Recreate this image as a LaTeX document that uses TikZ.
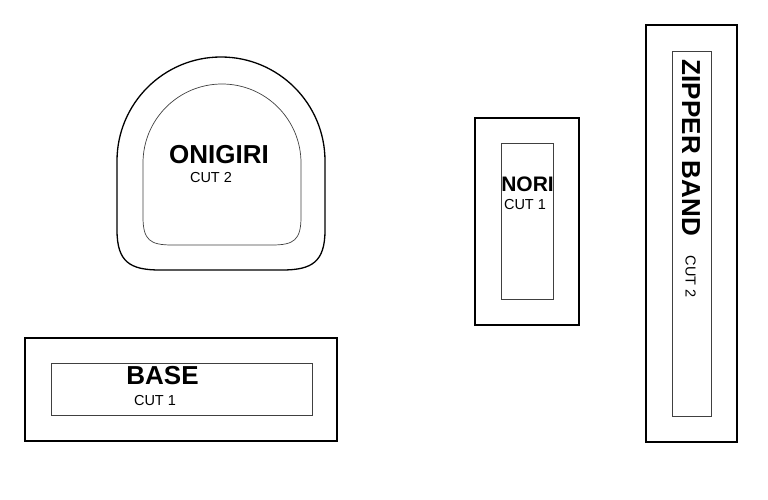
\documentclass[tikz,border=0pt]{standalone}
\usepackage{fontspec}
\setmainfont{Liberation Sans}
\begin{document}
\begin{tikzpicture}[x=1pt,y=-1pt,
  outerline/.style={draw=black,line width=1.3pt},
  innerline/.style={draw=black!75,line width=0.7pt},
  bigtitle/.style={inner sep=0pt,font=\fontsize{26}{26}\selectfont\bfseries},
  cutlabel/.style={inner sep=0pt,font=\fontsize{14.5}{14.5}\selectfont}]
\useasboundingbox (0,0) rectangle (768,500);
% BASE
\draw[outerline] (25,338) rectangle (337,441);
\draw[innerline] (51,363) rectangle (312,415);
\node[bigtitle] (base) at (162.5,376) {BASE};
\node[cutlabel] (basecut) at (155,400.5) {CUT 1};
% ONIGIRI
\draw[outerline] (117,161) arc[start angle=180,end angle=360,radius=104]
  -- (325,230) .. controls (325,262) and (312,270) .. (282,270)
  -- (160,270) .. controls (130,270) and (117,262) .. (117,230) -- cycle;
\draw[innerline] (143,163) arc[start angle=180,end angle=360,radius=79]
  -- (301,217) .. controls (301,240) and (294,245) .. (272,245)
  -- (172,245) .. controls (150,245) and (143,240) .. (143,217) -- cycle;
\node[bigtitle] (oni) at (219,154.5) {ONIGIRI};
\node[cutlabel] (onicut) at (211,177.5) {CUT 2};
% NORI
\draw[outerline] (475,118) rectangle (579,325);
\draw[innerline] (501,143) rectangle (553,299);
\node[bigtitle,font=\fontsize{21}{21}\selectfont\bfseries] (nori) at (527.5,184.5) {NORI};
\node[cutlabel] (noricut) at (525,205) {CUT 1};
% ZIPPER BAND
\draw[outerline] (646,25) rectangle (737,442);
\draw[innerline] (672,51) rectangle (711,416);
\node[bigtitle,rotate=-90] (zip) at (691,148) {ZIPPER BAND};
\node[cutlabel,rotate=-90] (zipcut) at (690.5,276.5) {CUT 2};
\end{tikzpicture}
\end{document}
